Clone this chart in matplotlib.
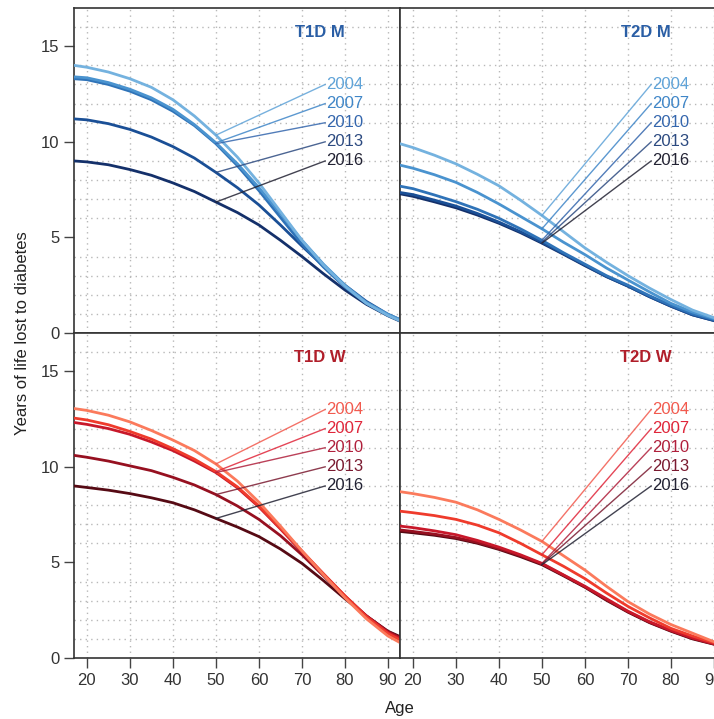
import matplotlib
matplotlib.use('Agg')
import matplotlib.pyplot as plt

plt.rcParams['font.family'] = ['Liberation Sans', 'DejaVu Sans']

# ---------------- data ----------------
ages = [17, 20, 25, 30, 35, 40, 45, 50, 55, 60, 65, 70, 75, 80, 85, 90, 93]
years = ['2004', '2007', '2010', '2013', '2016']

t1d_m = {
    '2004': [14.0, 13.9, 13.65, 13.3, 12.85, 12.2, 11.35, 10.35, 9.2, 7.85, 6.35, 4.85, 3.55, 2.45, 1.55, 0.92, 0.62],
    '2007': [13.4, 13.35, 13.1, 12.75, 12.3, 11.7, 10.9, 9.95, 8.85, 7.6, 6.25, 4.85, 3.6, 2.5, 1.6, 0.98, 0.68],
    '2010': [13.3, 13.25, 13.0, 12.65, 12.2, 11.6, 10.85, 9.9, 8.75, 7.45, 6.05, 4.65, 3.45, 2.4, 1.55, 0.93, 0.63],
    '2013': [11.2, 11.15, 10.95, 10.65, 10.25, 9.75, 9.15, 8.4, 7.6, 6.7, 5.65, 4.55, 3.5, 2.5, 1.65, 0.98, 0.68],
    '2016': [9.0, 8.95, 8.8, 8.55, 8.25, 7.85, 7.4, 6.85, 6.3, 5.65, 4.85, 4.0, 3.1, 2.25, 1.5, 0.9, 0.6],
}
t2d_m = {
    '2004': [9.9, 9.7, 9.3, 8.85, 8.3, 7.7, 6.95, 6.15, 5.3, 4.45, 3.7, 3.0, 2.35, 1.75, 1.2, 0.8, 0.6],
    '2007': [8.78, 8.62, 8.28, 7.88, 7.35, 6.75, 6.1, 5.45, 4.75, 4.1, 3.4, 2.77, 2.15, 1.55, 1.1, 0.75, 0.6],
    '2010': [7.68, 7.55, 7.22, 6.87, 6.47, 6.0, 5.45, 4.85, 4.2, 3.6, 3.0, 2.5, 1.95, 1.45, 1.0, 0.7, 0.55],
    '2013': [7.35, 7.24, 6.95, 6.64, 6.25, 5.8, 5.3, 4.75, 4.15, 3.55, 2.95, 2.45, 1.9, 1.4, 0.95, 0.65, 0.5],
    '2016': [7.28, 7.15, 6.86, 6.55, 6.17, 5.74, 5.25, 4.7, 4.12, 3.52, 2.95, 2.45, 1.9, 1.4, 0.95, 0.65, 0.5],
}
t1d_w = {
    '2004': [13.05, 12.95, 12.7, 12.35, 11.9, 11.4, 10.85, 10.15, 9.25, 8.15, 6.9, 5.6, 4.35, 3.15, 2.05, 1.15, 0.78],
    '2007': [12.55, 12.45, 12.2, 11.85, 11.45, 10.95, 10.4, 9.75, 8.95, 7.95, 6.8, 5.6, 4.4, 3.25, 2.15, 1.28, 0.92],
    '2010': [12.32, 12.22, 12.0, 11.7, 11.3, 10.85, 10.3, 9.7, 8.9, 7.9, 6.75, 5.55, 4.4, 3.25, 2.2, 1.33, 1.0],
    '2013': [10.6, 10.5, 10.3, 10.05, 9.8, 9.45, 9.05, 8.55, 7.95, 7.25, 6.4, 5.4, 4.3, 3.2, 2.2, 1.38, 1.05],
    '2016': [9.0, 8.92, 8.78, 8.6, 8.38, 8.12, 7.75, 7.3, 6.85, 6.35, 5.7, 4.95, 4.05, 3.1, 2.2, 1.4, 1.1],
}
t2d_w = {
    '2004': [8.7, 8.6, 8.4, 8.15, 7.75, 7.25, 6.7, 6.1, 5.35, 4.6, 3.75, 2.95, 2.3, 1.75, 1.3, 0.85, 0.65],
    '2007': [7.68, 7.6, 7.45, 7.25, 6.95, 6.55, 6.0, 5.4, 4.8, 4.15, 3.4, 2.7, 2.1, 1.55, 1.15, 0.8, 0.65],
    '2010': [6.9, 6.82, 6.65, 6.45, 6.15, 5.8, 5.4, 4.95, 4.35, 3.75, 3.1, 2.45, 1.9, 1.45, 1.05, 0.75, 0.6],
    '2013': [6.7, 6.62, 6.48, 6.3, 6.05, 5.72, 5.35, 4.92, 4.33, 3.72, 3.05, 2.42, 1.87, 1.42, 1.03, 0.73, 0.6],
    '2016': [6.62, 6.55, 6.42, 6.25, 6.0, 5.68, 5.3, 4.88, 4.3, 3.7, 3.02, 2.4, 1.85, 1.4, 1.0, 0.72, 0.58],
}
label_y = [13, 12, 11, 10, 9]
panel_titles = ['T1D M', 'T2D M', 'T1D W', 'T2D W']
x_ticks = [20, 30, 40, 50, 60, 70, 80, 90]
y_ticks = [0, 5, 10, 15]

# ---------------- styles ----------------
blue_lines = ['#74b2df', '#4a93cf', '#2f73b8', '#1a4f96', '#14306a']
blue_text = ['#5fa3d8', '#3f86c8', '#3466ad', '#2c4a80', '#222233']
red_lines = ['#fb7a5c', '#ef3b2c', '#c8182a', '#961020', '#560a14']
red_text = ['#f25a4e', '#e0263a', '#b0203c', '#7a1a30', '#222233']
title_blue = '#2a5ea5'
title_red = '#b01e2a'

W = 326 / 714
H = 325 / 719
left_l = 74 / 714
left_r = 400 / 714
bot_b = 1 - 658 / 719
bot_t = 1 - 333 / 719

panels = [
    (t1d_m, [left_l, bot_t, W, H], blue_lines, blue_text, title_blue, True, False),
    (t2d_m, [left_r, bot_t, W, H], blue_lines, blue_text, title_blue, False, False),
    (t1d_w, [left_l, bot_b, W, H], red_lines, red_text, title_red, True, True),
    (t2d_w, [left_r, bot_b, W, H], red_lines, red_text, title_red, False, True),
]

fig = plt.figure(figsize=(7.14, 7.19), dpi=100)
fig.patch.set_facecolor('white')

i50 = ages.index(50)
for (data, pos, lcols, tcols, tcol, show_y, show_x), title in zip(panels, panel_titles):
    ax = fig.add_axes(pos)
    ax.set_xlim(17, 92.8)
    ax.set_ylim(0, 17)
    ax.set_xticks(x_ticks)
    ax.set_yticks(y_ticks)
    ax.set_yticks(range(1, 17), minor=True)
    ax.grid(which='major', axis='x', color='#b8b8b8', linestyle=(0, (1, 3)), linewidth=1)
    ax.grid(which='minor', axis='y', color='#b8b8b8', linestyle=(0, (1, 3)), linewidth=1)
    ax.set_axisbelow(True)
    ax.tick_params(which='minor', length=0)
    ax.tick_params(which='major', direction='out', length=7, width=1, color='#444444',
                   labelsize=12, labelcolor='#333333')
    if not show_y:
        ax.tick_params(axis='y', which='major', length=0, labelleft=False)
    if not show_x:
        ax.tick_params(axis='x', which='major', length=0, labelbottom=False)
    for s in ax.spines.values():
        s.set_color('#333333')
        s.set_linewidth(1.2)

    # curves (draw darkest first so lighter on top)
    for k in range(len(years) - 1, -1, -1):
        ax.plot(ages, data[years[k]], color=lcols[k], linewidth=2.0,
                solid_capstyle='round', solid_joinstyle='round', zorder=3)

    # leaders and labels
    for k, yr in enumerate(years):
        y0 = data[yr][i50]
        ax.plot([50, 75.4], [y0, label_y[k]], color=tcols[k], linewidth=1.0, alpha=0.85, zorder=4)
        ax.text(75.6, label_y[k], yr, color=tcols[k], fontsize=12, va='center', ha='left', zorder=5)

    ax.text(0.755, 0.925, title, transform=ax.transAxes, fontsize=12, fontweight='bold',
            color=tcol, ha='center', va='center')

fig.text(23 / 714, 1 - 333 / 719, 'Years of life lost to diabetes', rotation=90,
         ha='center', va='center', fontsize=12, color='#222222')
fig.text(400 / 714, 1 - 708 / 719, 'Age', ha='center', va='center', fontsize=12, color='#222222')

fig.savefig('out.png', dpi=100, facecolor='white')
